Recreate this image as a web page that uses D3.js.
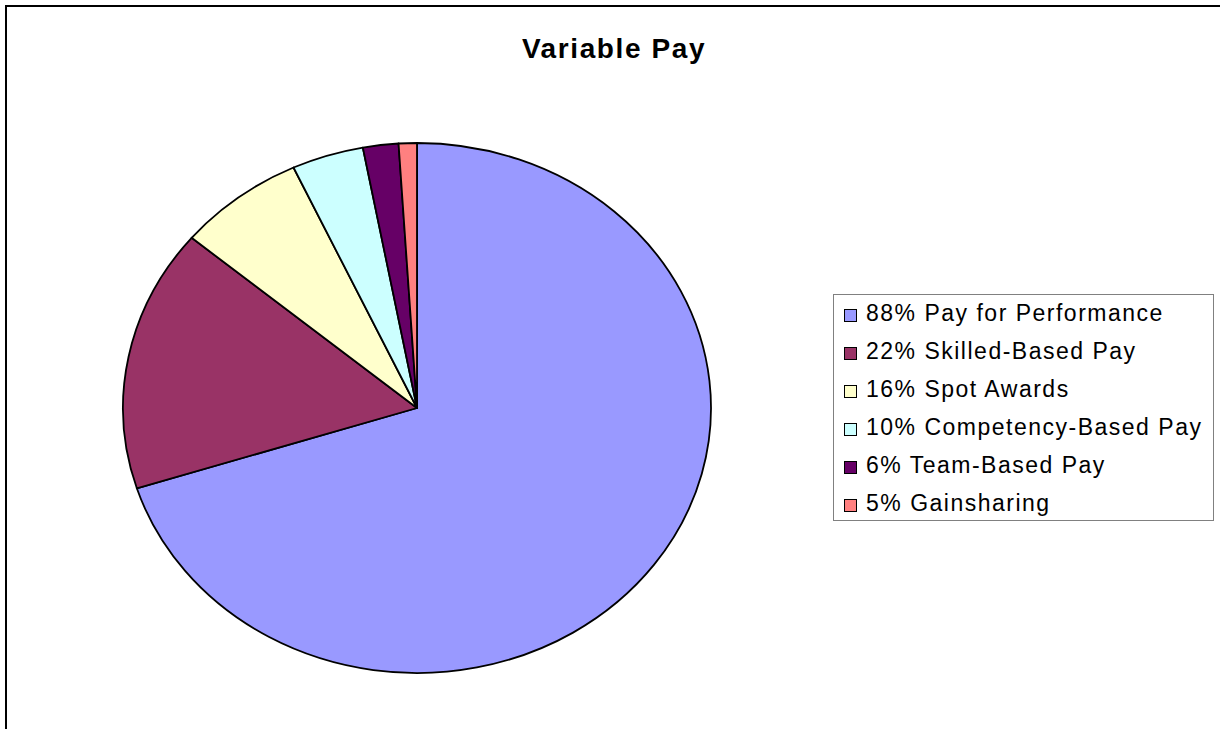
<!DOCTYPE html>
<html>
<head>
<meta charset="utf-8">
<script src="https://cdn.jsdelivr.net/npm/d3@7/dist/d3.min.js"></script>
<style>
  html, body { margin: 0; padding: 0; background: #fff; }
  svg { display: block; }
  text { font-family: "Liberation Sans", Arial, sans-serif; }
</style>
</head>
<body>
<svg id="chart" width="1220" height="729"></svg>
<script>
// Data (slice shares; legend labels as printed)
const categories = ["Pay for Performance", "Skilled-Based Pay", "Spot Awards", "Competency-Based Pay", "Team-Based Pay", "Gainsharing"];
const labelPercents = ["88%", "22%", "16%", "10%", "6%", "5%"];
const values = [70.1, 16.0, 7.0, 3.95, 1.95, 1.0];
const colors = ["#9999FF", "#993366", "#FFFFCC", "#CCFFFF", "#660066", "#FF8080"];
const title = "Variable Pay";

const svg = d3.select("#chart");

// outer frame
svg.append("rect")
  .attr("x", 6).attr("y", 6).attr("width", 1400).attr("height", 1000)
  .attr("fill", "#fff").attr("stroke", "#000").attr("stroke-width", 2);

// title
svg.append("text")
  .attr("x", 614).attr("y", 58)
  .attr("text-anchor", "middle")
  .attr("font-size", 28).attr("font-weight", "bold")
  .attr("letter-spacing", 1.6)
  .text(title);

// pie
const cx = 417, cy = 408, rx = 294, ry = 265;
const color = d3.scaleOrdinal().domain(categories).range(colors);
const pie = d3.pie().sort(null).value(d => d.value);
const data = categories.map((c, i) => ({ cat: c, value: values[i] }));
const arc = d3.arc().innerRadius(0).outerRadius(rx);

const g = svg.append("g")
  .attr("transform", `translate(${cx},${cy}) scale(1,${ry / rx})`);
g.selectAll("path")
  .data(pie(data))
  .join("path")
  .attr("d", arc)
  .attr("fill", d => color(d.data.cat))
  .attr("stroke", "#000")
  .attr("stroke-width", 1.8)
  .attr("stroke-linejoin", "round")
  .attr("vector-effect", "non-scaling-stroke");

// legend
const lx = 833.5, ly = 294.5, lw = 380, lh = 226;
const leg = svg.append("g");
leg.append("rect")
  .attr("x", lx).attr("y", ly).attr("width", lw).attr("height", lh)
  .attr("fill", "#fff").attr("stroke", "#808080").attr("stroke-width", 1);

const rowY = d3.scalePoint().domain(categories).range([321, 511]);
const items = leg.selectAll("g.item").data(categories).join("g").attr("class", "item");
items.append("rect")
  .attr("x", 844.5).attr("y", d => rowY(d) - 11.5)
  .attr("width", 12).attr("height", 12)
  .attr("fill", d => color(d)).attr("stroke", "#000").attr("stroke-width", 1);
items.append("text")
  .attr("x", 866).attr("y", d => rowY(d))
  .attr("font-size", 23)
  .attr("letter-spacing", 1.5)
  .text((d, i) => `${labelPercents[i]} ${d}`);
</script>
</body>
</html>
